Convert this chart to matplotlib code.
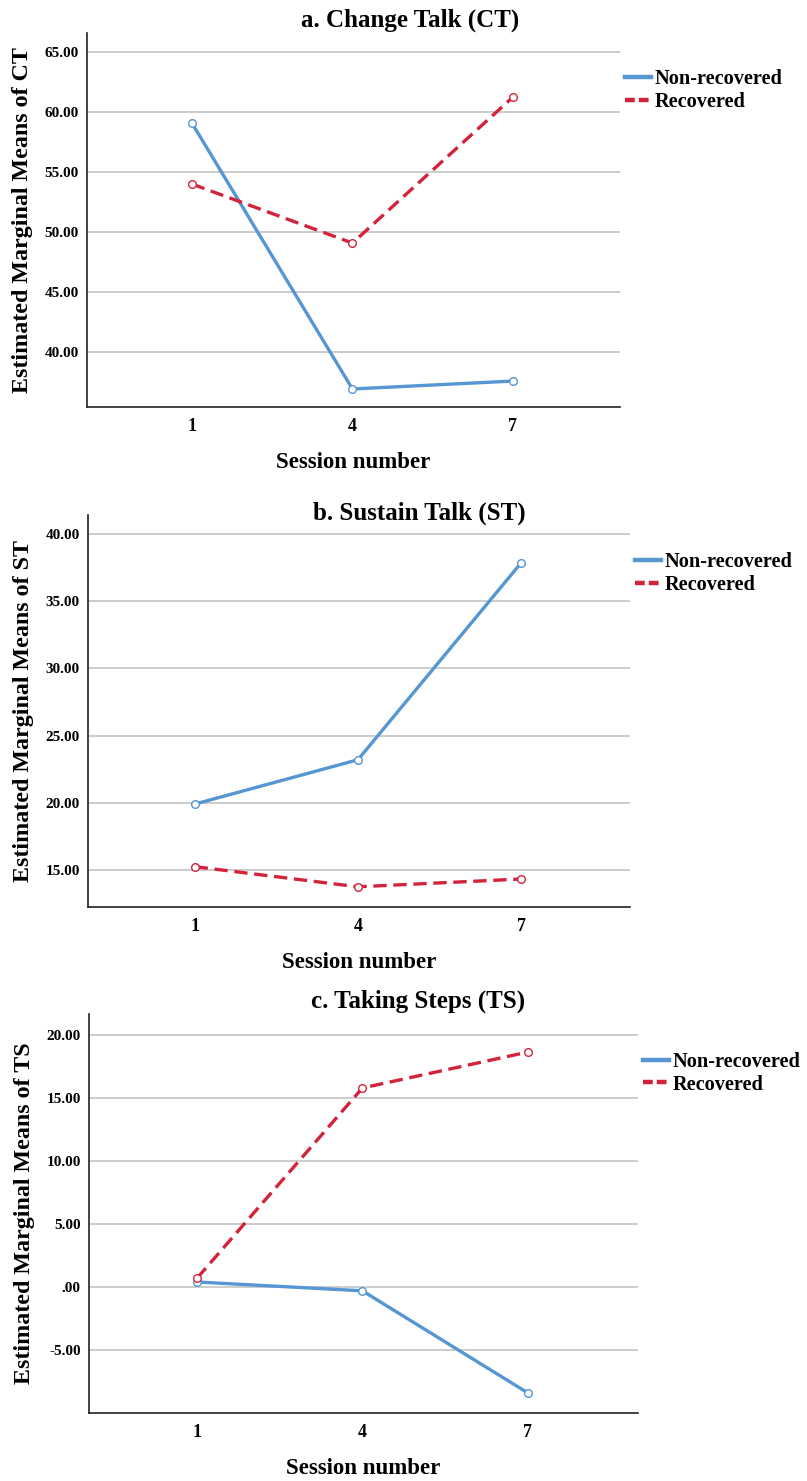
import matplotlib
matplotlib.use("Agg")
import matplotlib.pyplot as plt
from matplotlib.ticker import FixedLocator, FuncFormatter

plt.rcParams['font.family'] = ['Liberation Serif', 'DejaVu Serif']
plt.rcParams['font.weight'] = 'bold'

sessions = [1, 4, 7]
series_names = ["Non-recovered", "Recovered"]

ct_nonrec = [59.08, 36.92, 37.58]
ct_rec = [54.00, 49.08, 61.25]
st_nonrec = [19.90, 23.20, 37.85]
st_rec = [15.25, 13.75, 14.33]
ts_nonrec = [0.40, -0.30, -8.40]
ts_rec = [0.70, 15.80, 18.65]

ct_ticks = [40, 45, 50, 55, 60, 65]
st_ticks = [15, 20, 25, 30, 35, 40]
ts_ticks = [-5, 0, 5, 10, 15, 20]

titles = ["a. Change Talk (CT)", "b. Sustain Talk (ST)", "c. Taking Steps (TS)"]
ylabels = ["Estimated Marginal Means of CT", "Estimated Marginal Means of ST",
           "Estimated Marginal Means of TS"]

BLUE = "#5596D3"
RED = "#D2233B"
GRID = "#BEBEBE"

fig = plt.figure(figsize=(8.07, 14.81), dpi=100)

positions = [
    [0.1078, 0.7252, 0.7683 - 0.1078, 0.9777 - 0.7252],
    [0.1090, 0.3876, 0.7807 - 0.1090, 0.6523 - 0.3876],
    [0.1103, 0.0459, 0.7906 - 0.1103, 0.3153 - 0.0459],
]
ylims = [(35.42, 66.58), (12.25, 41.41), (-10.0, 21.67)]
title_pos = [(0.508, 0.9865), (0.519, 0.6536), (0.518, 0.3240)]
data = [(ct_nonrec, ct_rec, ct_ticks), (st_nonrec, st_rec, st_ticks),
        (ts_nonrec, ts_rec, ts_ticks)]

def fmt(v, pos):
    s = "%.2f" % v
    if s.startswith("0."):
        s = s[1:]
    if s == ".00" or s == "-.00":
        return ".00"
    return s

for i, ax_pos in enumerate(positions):
    ax = fig.add_axes(ax_pos)
    nonrec, rec, ticks = data[i]
    ax.set_xlim(-0.96, 9.0)
    ax.set_ylim(*ylims[i])
    ax.yaxis.set_major_locator(FixedLocator(ticks))
    ax.yaxis.set_major_formatter(FuncFormatter(fmt))
    ax.set_xticks(sessions)
    ax.set_xticklabels([str(s) for s in sessions])
    ax.grid(axis='y', color=GRID, linewidth=1.1, zorder=0)
    ax.set_axisbelow(True)
    for sp in ['top', 'right']:
        ax.spines[sp].set_visible(False)
    for sp in ['left', 'bottom']:
        ax.spines[sp].set_linewidth(1.2)
        ax.spines[sp].set_color('#222222')
    ax.tick_params(axis='both', length=0)
    ax.tick_params(axis='y', pad=6, labelsize=11)
    ax.tick_params(axis='x', pad=8, labelsize=13)
    l1, = ax.plot(sessions, nonrec, color=BLUE, linewidth=2.4, linestyle='-',
                  marker='o', markersize=5.5, markerfacecolor='white',
                  markeredgecolor=BLUE, markeredgewidth=1.0, zorder=3,
                  label=series_names[0])
    l2, = ax.plot(sessions, rec, color=RED, linewidth=2.4, linestyle=(0, (4, 2)),
                  marker='o', markersize=5.5, markerfacecolor='white',
                  markeredgecolor=RED, markeredgewidth=1.0, zorder=3,
                  label=series_names[1])
    ax.set_xlabel("Session number", fontsize=16.5, fontweight='bold', labelpad=12)
    ax.set_ylabel(ylabels[i], fontsize=17.3, fontweight='bold', labelpad=8)
    leg = ax.legend(handles=[l1, l2], loc='upper left', bbox_to_anchor=(0.995, 0.925),
                    frameon=False, fontsize=14.6, handlelength=1.25, handletextpad=0.2,
                    labelspacing=0.12, borderaxespad=0.0)
    handles = leg.legend_handles
    for h in handles:
        h.set_marker('')
        h.set_linewidth(3.2)
    handles[1].set_linestyle((0, (2.2, 0.9)))
    fig.text(title_pos[i][0], title_pos[i][1], titles[i], ha='center', va='center',
             fontsize=18, fontweight='bold')

fig.savefig("out.png", dpi=100)
